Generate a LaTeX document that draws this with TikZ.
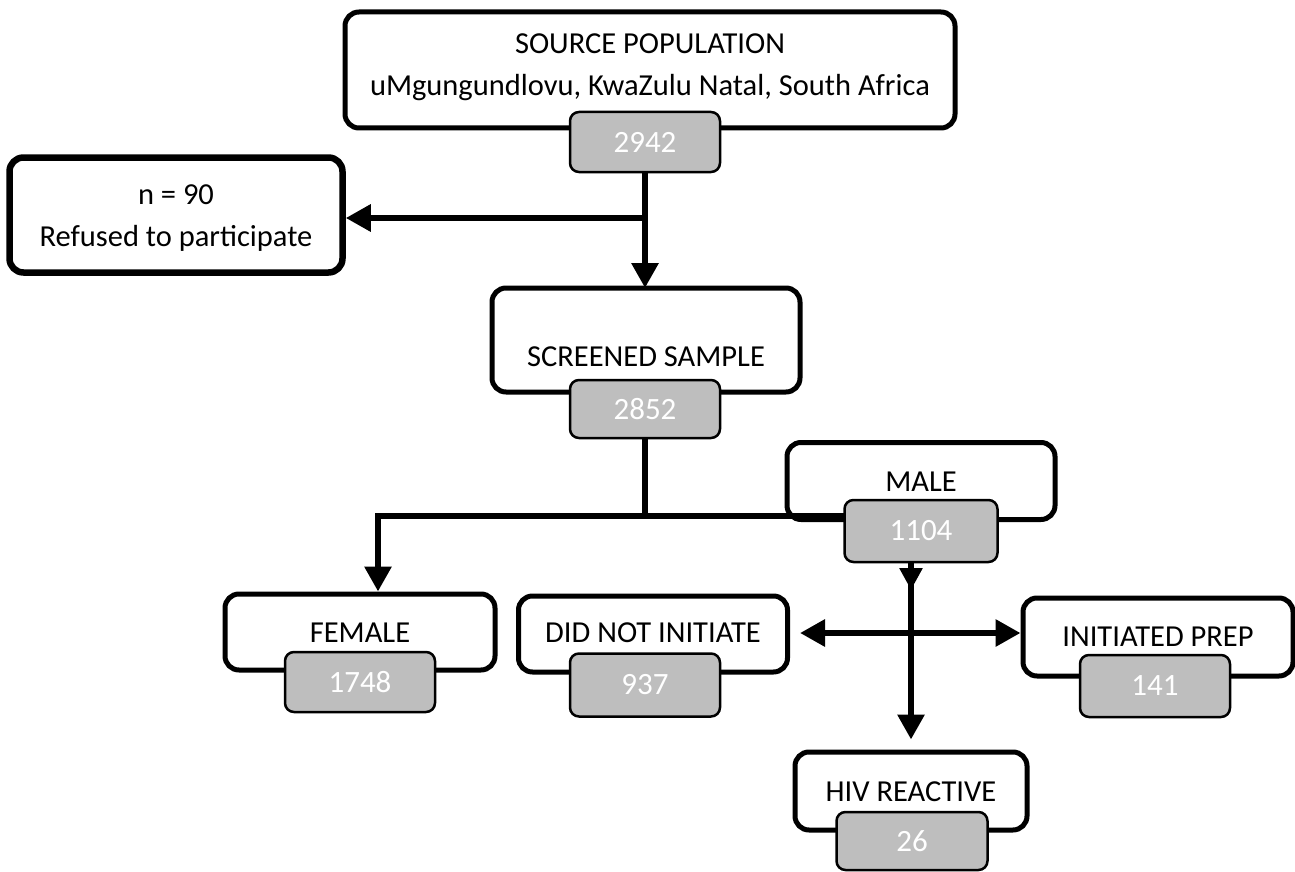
\documentclass[tikz,border=0pt]{standalone}
\usepackage{fontspec}
\setmainfont{Carlito}
\usetikzlibrary{arrows.meta}
\definecolor{boxgray}{HTML}{BEBEBE}
\begin{document}
\begin{tikzpicture}[x=1pt,y=-1pt,
  mainbox/.style={draw=black, line width=5pt, fill=white, rounded corners=14pt, inner sep=0pt},
  graybox/.style={draw=black, line width=2.5pt, fill=boxgray, rounded corners=9pt, inner sep=0pt,
     minimum width=150pt, text=white, font=\fontsize{31}{36}\selectfont},
  txt/.style={inner sep=0pt, font=\fontsize{30.5}{42}\selectfont, align=center},
  conn/.style={line width=6pt},
  arr/.style={line width=6pt, -{Triangle[length=25pt,width=26pt]}},
  darr/.style={line width=6pt, {Triangle[length=25pt,width=26pt]}-{Triangle[length=25pt,width=26pt]}},
  sarr/.style={line width=6pt, -{Triangle[length=22pt,width=22pt]}}
]
\useasboundingbox (0,0) rectangle (1295,872);
% main boxes
\node[mainbox, minimum width=610pt, minimum height=116pt] (src) at (650,70) {};
\node[txt] (srct) at (650,67) {SOURCE POPULATION\\uMgungundlovu, KwaZulu Natal, South Africa};
\node[mainbox, line width=6.5pt, minimum width=333pt, minimum height=115pt] (ref) at (176,215) {};
\node[txt] (reft) at (176,218) {n = 90\\Refused to participate};
\node[mainbox, minimum width=308pt, minimum height=104pt] (scr) at (646,340) {};
\node[txt] (scrt) at (646,357) {SCREENED SAMPLE};
\node[mainbox, minimum width=268pt, minimum height=77pt] (male) at (921,481) {};
\node[txt] (malet) at (921,482) {MALE};
\node[mainbox, minimum width=270pt, minimum height=76pt] (fem) at (360,632) {};
\node[txt] (femt) at (360,633) {FEMALE};
\node[mainbox, minimum width=269pt, minimum height=76pt] (dni) at (653,634) {};
\node[txt] (dnit) at (653,633) {DID NOT INITIATE};
\node[mainbox, minimum width=270pt, minimum height=78pt] (ip) at (1158,637) {};
\node[txt] (ipt) at (1158,637) {INITIATED PREP};
\node[mainbox, minimum width=232pt, minimum height=78pt] (hiv) at (911,791) {};
\node[txt] (hivt) at (911,792) {HIV REACTIVE};
% connectors
\coordinate (j1) at (645,218);
\coordinate (j2) at (645,516);
\coordinate (jf) at (378,516);
\coordinate (jm) at (911,562);
\coordinate (jh) at (911,590);
\draw[arr] (645,172) -- (645,288);
\draw[arr] (j1) -- (j1 -| ref.east);
\draw[conn] (645,438) -- (j2);
\draw[conn] ([xshift=-3pt]jf) -- (846,516);
\draw[arr] (jf) -- (jf |- fem.north);
\draw[sarr] (jm) -- (jh);
\draw[arr, shorten >=10pt] (jm) -- (jm |- hiv.north);
\draw[darr, shorten <=10pt] (dni.east |- 0,633) -- (ip.west |- 0,633);
% gray boxes
\node[graybox, minimum height=60pt] (g2942) at (645,142) {2942};
\node[graybox, minimum height=58pt] (g2852) at (645,409) {2852};
\node[graybox, minimum width=153pt, minimum height=62pt] (g1104) at (921,531) {1104};
\node[graybox, minimum height=60pt] (g1748) at (360,682) {1748};
\node[graybox, minimum height=63pt] (g937) at (645,685) {937};
\node[graybox, minimum height=62pt] (g141) at (1155,686) {141};
\node[graybox, minimum width=151pt, minimum height=58pt] (g26) at (912,841) {26};
\end{tikzpicture}
\end{document}
